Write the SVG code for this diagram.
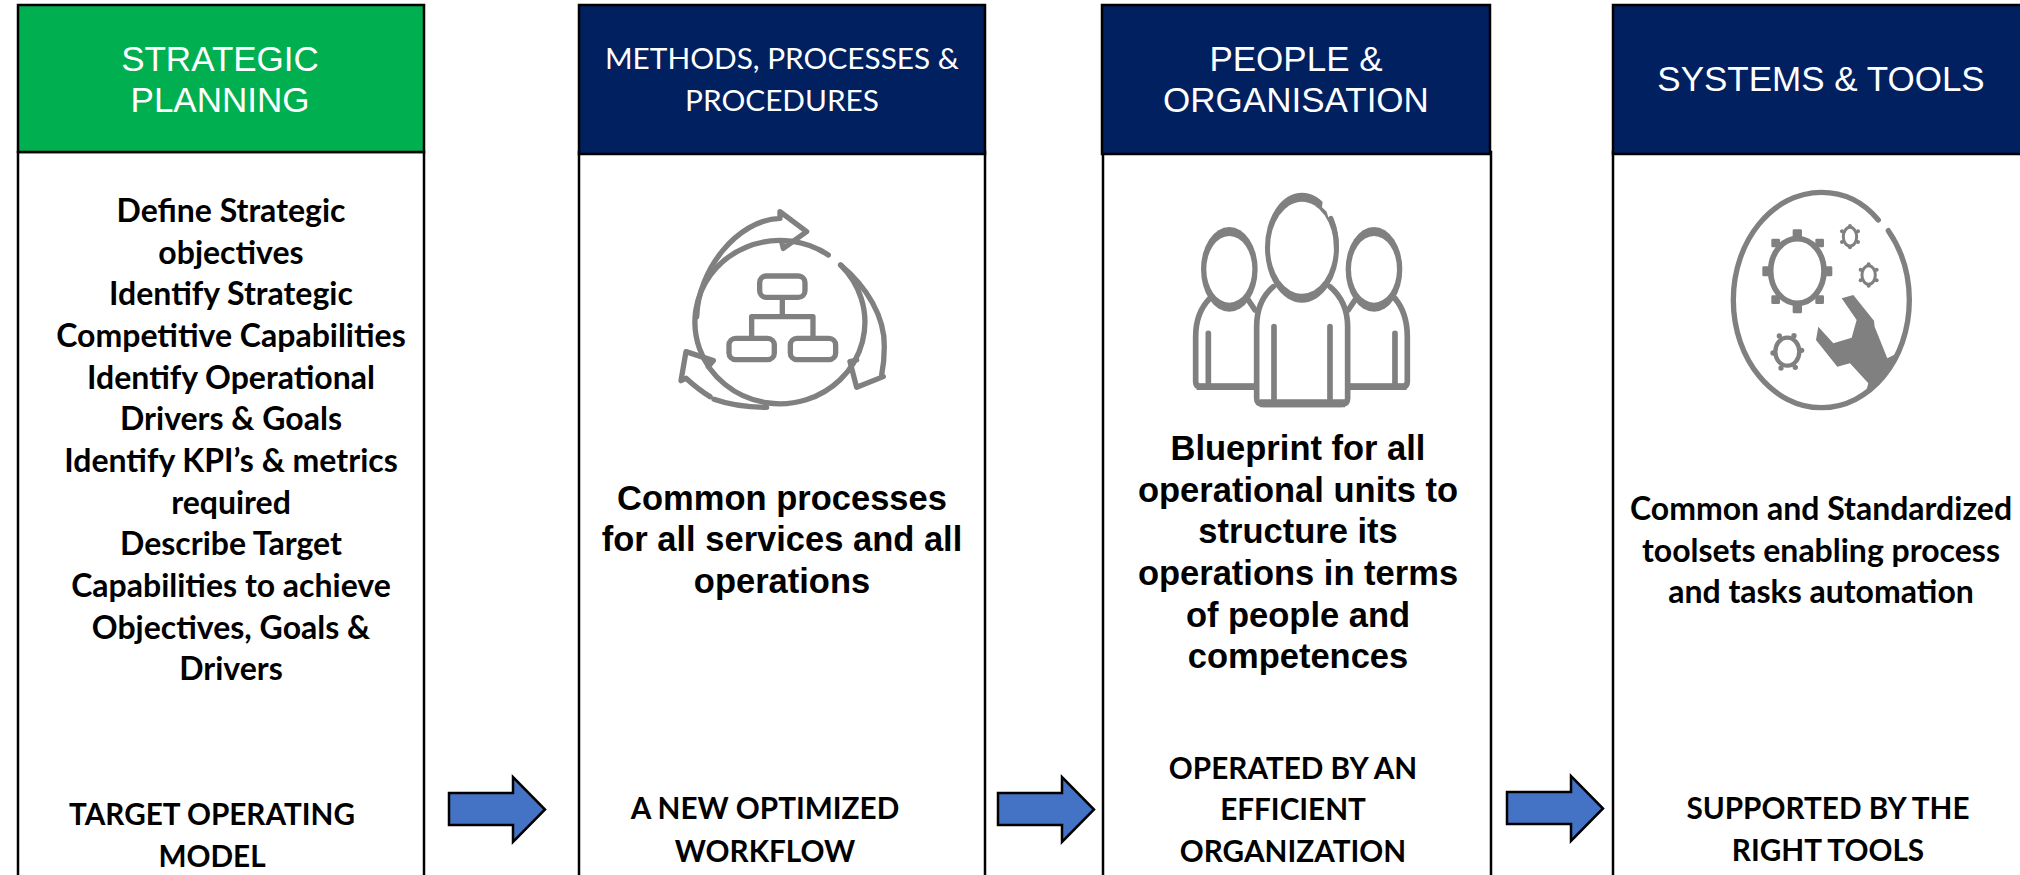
<svg xmlns="http://www.w3.org/2000/svg" width="2020" height="875" viewBox="0 0 2020 875">
<style>
text{text-anchor:middle}
.h{font-family:"Liberation Sans",Arial,sans-serif;font-size:35px;fill:#fff}
.hc{font-family:Lato,"Open Sans",sans-serif;font-size:29.800px;fill:#fff}
.b{font-family:Lato,"Open Sans",sans-serif;font-size:32px;font-weight:700;fill:#000}
.c{font-family:Lato,"Open Sans",sans-serif;font-size:29.700px;font-weight:700;fill:#000}
.a{font-family:"Liberation Sans",Arial,sans-serif;font-size:34.500px;font-weight:700;fill:#000}
.box{fill:#fff;stroke:#000;stroke-width:2.500}
.head{stroke:#000;stroke-width:2.500}
.arrow{fill:#4472c4;stroke:#000;stroke-width:2.500}
.ln{fill:none;stroke:#808080;stroke-width:16;stroke-linecap:round;stroke-linejoin:round}
.fl{fill:#808080}
.wh{fill:#fff}
</style>
<g id="col1">
<rect class="box" x="18" y="152" width="406" height="730"/>
<rect class="head" x="18" y="5" width="406" height="147" fill="#00b050"/>
<text class="h" x="220" y="71">STRATEGIC</text><text class="h" x="220" y="112">PLANNING</text>
<text class="b" x="231" y="222">Define Strategic</text>
<text class="b" x="231" y="264">objectives</text>
<text class="b" x="231" y="305">Identify Strategic</text>
<text class="b" x="231" y="347">Competitive Capabilities</text>
<text class="b" x="231" y="389">Identify Operational</text>
<text class="b" x="231" y="430">Drivers &amp; Goals</text>
<text class="b" x="231" y="472">Identify KPI’s &amp; metrics</text>
<text class="b" x="231" y="514">required</text>
<text class="b" x="231" y="555">Describe Target</text>
<text class="b" x="231" y="597">Capabilities to achieve</text>
<text class="b" x="231" y="639">Objectives, Goals &amp;</text>
<text class="b" x="231" y="680">Drivers</text>
<text class="c" x="212" y="825">TARGET OPERATING</text>
<text class="c" x="212" y="867">MODEL</text>
</g>
<g id="col2">
<rect class="box" x="579" y="152" width="406" height="730"/>
<rect class="head" x="579" y="5" width="406" height="149" fill="#002060"/>
<text class="hc" x="782" y="69">METHODS, PROCESSES &amp;</text><text class="hc" x="782" y="111">PROCEDURES</text>
<g transform="translate(600 170) scale(.3333)">
<path class="ln" d="M685 255A255 245 0 1 0 722 285"/>
<path class="ln" d="M290 440C295 300 410 150 540 145L540 125L620 185L550 235L545 215"/>
<path class="ln" d="M722 285C800 350 855 440 853 530C853 570 850 590 845 615L850 620L770 652L750 575L770 570"/>
<path class="ln" d="M500 712C440 712 390 705 342 688M330 680C305 665 280 645 258 625L243 632L258 545L340 572L325 590"/>
<rect class="ln" x="479" y="318" width="136" height="64" rx="20"/>
<rect class="ln" x="387" y="505" width="136" height="64" rx="20"/>
<rect class="ln" x="571" y="505" width="136" height="64" rx="20"/>
<path class="ln" d="M547 385V440M455 500V440H639V500"/>
</g>
<text class="a" x="782" y="510">Common processes</text>
<text class="a" x="782" y="551">for all services and all</text>
<text class="a" x="782" y="593">operations</text>
<text class="c" x="765" y="819">A NEW OPTIMIZED</text>
<text class="c" x="765" y="862">WORKFLOW</text>
</g>
<g id="col3">
<rect class="box" x="1103" y="152" width="388" height="730"/>
<rect class="head" x="1102" y="5" width="388" height="149" fill="#002060"/>
<text class="h" x="1296" y="71">PEOPLE &amp;</text><text class="h" x="1296" y="112">ORGANISATION</text>
<g transform="translate(1150 170) scale(.3333)">
<ellipse class="fl" cx="238" cy="298" rx="85" ry="127"/><ellipse class="wh" cx="238" cy="298" rx="69" ry="100"/>
<ellipse class="fl" cx="672" cy="298" rx="85" ry="127"/><ellipse class="wh" cx="672" cy="298" rx="69" ry="100"/>
<path class="ln" d="M180 385C150 415 137 450 137 500V635Q137 650 152 650H320M175 490V640" style="stroke-width:17"/>
<path class="ln" d="M735 385C760 415 772 450 772 500V635Q772 650 757 650H595M735 490V640M315 420L295 390M595 420L615 390" style="stroke-width:17"/>
<path class="fl" d="M140 640H320V660H140ZM590 640H770V660H590Z"/>
<path class="wh" d="M370 350C335 380 320 420 320 470V690H590V470C590 420 575 380 540 350Z"/>
<path class="ln" d="M370 350C335 380 320 420 320 470V685Q320 703 340 703H575Q593 703 593 685V470C593 420 575 380 540 350M372 470V695M540 470V695" style="stroke-width:17"/>
<path class="fl" d="M330 688H585V712H330Z"/>
<ellipse class="fl" cx="456" cy="233" rx="111" ry="165"/><ellipse class="wh" cx="456" cy="233" rx="96" ry="138"/>
<path class="wh" d="M522 60L600 60L600 180L548 150L535 142L530 125L516 112Z"/>
<path class="ln" d="M543 145C555 175 560 205 559 235" style="stroke-width:15"/>
</g>
<text class="a" x="1298" y="460">Blueprint for all</text>
<text class="a" x="1298" y="502">operational units to</text>
<text class="a" x="1298" y="543">structure its</text>
<text class="a" x="1298" y="585">operations in terms</text>
<text class="a" x="1298" y="627">of people and</text>
<text class="a" x="1298" y="668">competences</text>
<text class="c" x="1293" y="779">OPERATED BY AN</text>
<text class="c" x="1293" y="820">EFFICIENT</text>
<text class="c" x="1293" y="862">ORGANIZATION</text>
</g>
<g id="col4">
<rect class="box" x="1613" y="152" width="420" height="730"/>
<rect class="head" x="1613" y="5" width="420" height="149" fill="#002060"/>
<text class="h" x="1821" y="91">SYSTEMS &amp; TOOLS</text>
<g transform="translate(1700 170) scale(.3333)">
<path class="ln" d="M535 150C490 95 430 67 364 67C220 67 100 210 100 390C100 570 220 713 364 713C510 713 628 570 628 390C628 310 605 240 565 182"/>
<ellipse cx="292" cy="303" rx="80" ry="97" fill="none" stroke="#808080" stroke-width="17"/>
<g class="fl"><rect x="278" y="178" width="28" height="30" rx="4"/><rect x="278" y="400" width="28" height="30" rx="4"/><rect x="187" y="289" width="30" height="30" rx="4"/><rect x="367" y="289" width="30" height="30" rx="4"/>
<rect x="214" y="206" width="26" height="26" rx="4"/><rect x="346" y="206" width="26" height="26" rx="4"/><rect x="214" y="376" width="26" height="26" rx="4"/><rect x="346" y="376" width="26" height="26" rx="4"/></g>
<ellipse cx="450" cy="200" rx="20" ry="28" fill="none" stroke="#808080" stroke-width="9"/>
<ellipse cx="506" cy="315" rx="20" ry="28" fill="none" stroke="#808080" stroke-width="9"/>
<g class="fl"><circle cx="450" cy="168" r="6"/><circle cx="474" cy="184" r="6"/><circle cx="474" cy="216" r="6"/><circle cx="450" cy="232" r="6"/><circle cx="426" cy="216" r="6"/><circle cx="426" cy="184" r="6"/>
<circle cx="506" cy="283" r="6"/><circle cx="530" cy="299" r="6"/><circle cx="530" cy="331" r="6"/><circle cx="506" cy="347" r="6"/><circle cx="482" cy="331" r="6"/><circle cx="482" cy="299" r="6"/></g>
<ellipse cx="262" cy="545" rx="36" ry="42" fill="none" stroke="#808080" stroke-width="13"/>
<g class="fl"><circle cx="238" cy="498" r="8"/><circle cx="282" cy="497" r="8"/><circle cx="305" cy="541" r="8"/><circle cx="286" cy="592" r="8"/><circle cx="243" cy="594" r="8"/><circle cx="219" cy="549" r="8"/></g>
<path class="fl" d="M425 385L460 375L522 452L524 470L562 565L592 550C570 600 540 640 500 658L505 640L450 580L412 590L348 510L355 470L400 520L455 503L470 450Z"/>
</g>
<text class="b" x="1821" y="520">Common and Standardized</text>
<text class="b" x="1821" y="562">toolsets enabling process</text>
<text class="b" x="1821" y="603">and tasks automation</text>
<text class="c" x="1828" y="819">SUPPORTED BY THE</text>
<text class="c" x="1828" y="861">RIGHT TOOLS</text>
</g>
<g id="connectors">
<path class="arrow" d="M449 793H513V777L545 809.500L513 842V825H449Z"/>
<path class="arrow" d="M998 793H1062V777L1094 809.500L1062 842V825H998Z"/>
<path class="arrow" d="M1507 792H1571V776L1603 808.500L1571 841V824H1507Z"/>
</g>
</svg>
